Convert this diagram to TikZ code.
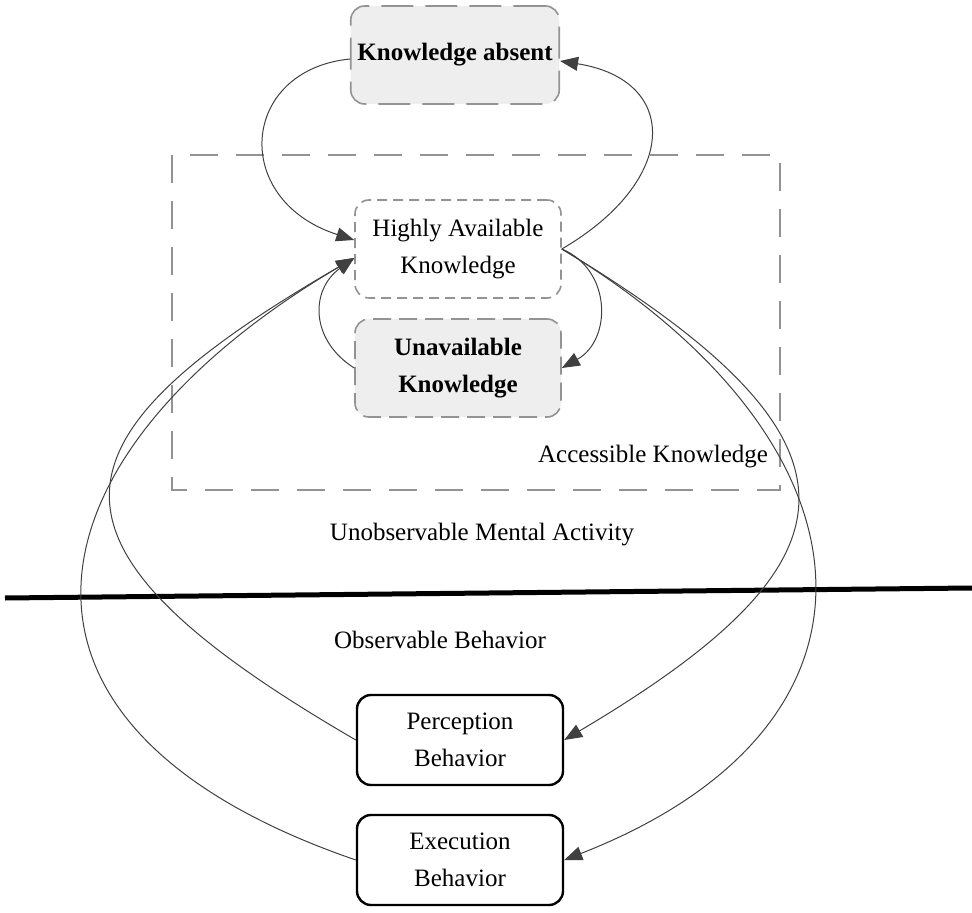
\documentclass[tikz,border=0pt]{standalone}
\usepackage{fontspec}
\setmainfont{Liberation Serif}
\usetikzlibrary{arrows.meta}

\begin{document}
\begin{tikzpicture}[x=0.5pt,y=-0.5pt,
  txt/.style={font=\fontsize{12.5}{18.5}\selectfont},
  kbox/.style={txt,draw=gray!85,fill=gray!13,rounded corners=7pt,line width=0.8pt,align=center,minimum width=103pt,minimum height=49pt},
  absent/.style={kbox,dash pattern=on 16pt off 6pt,font=\fontsize{12.5}{18.5}\selectfont\bfseries},
  unavail/.style={kbox,dash pattern=on 9pt off 4pt,font=\fontsize{12.5}{18.5}\selectfont\bfseries},
  avail/.style={kbox,fill=white,dash pattern=on 5pt off 3pt},
  behav/.style={txt,draw=black,rounded corners=7pt,line width=1.2pt,align=center,minimum width=103pt,minimum height=45pt},
  link/.style={draw=black!75,line width=0.5pt,-{Triangle[length=9pt,width=7pt]}}]
\useasboundingbox (0,0) rectangle (972,913);

% accessible knowledge area
\draw[gray!85,line width=0.7pt,dash pattern=on 14pt off 9pt] (172,155) rectangle (780,490);
\node[txt,anchor=east] (acc) at (775,457) {Accessible Knowledge};

\node[absent] (ka) at (455,55) {Knowledge absent};
\node[avail] (ha) at (458,249) {Highly Available\\Knowledge};
\node[unavail] (ua) at (458,368) {Unavailable\\Knowledge};

\node[txt] (unobs) at (482,535) {Unobservable Mental Activity};
\draw[line width=2.5pt] (5,598) coordinate (sepl) -- (972,588) coordinate (sepr);
\node[txt] (obs) at (440,640) {Observable Behavior};

\node[behav] (pb) at (460,740) {Perception\\Behavior};
\node[behav] (eb) at (460,860) {Execution\\Behavior};

% knowledge loops
\draw[link] ([yshift=-2pt]ka.west) .. controls (240,70) and (230,200) .. ([yshift=4.5pt]ha.west);
\draw[link] (ha.east) .. controls (680,180) and (680,80) .. ([yshift=-3pt]ka.east);
\draw[link] (ha.east) .. controls (612,270) and (612,340) .. (ua.east);
\draw[link] (ua.west) .. controls (310,340) and (310,290) .. ([yshift=-4.5pt]ha.west);

% behaviour loops
\draw[link] (ha.east) .. controls (882,442) and (868,560) .. (pb.east);
\draw[link] (ha.east) .. controls (882,442) and (912,724) .. (eb.east);
\draw[link] (pb.west) .. controls (20,545) and (40,440) .. ([yshift=-4.5pt]ha.west);
\draw[link] (eb.west) .. controls (-43,723) and (28,450) .. ([yshift=-4.5pt]ha.west);
\end{tikzpicture}
\end{document}
